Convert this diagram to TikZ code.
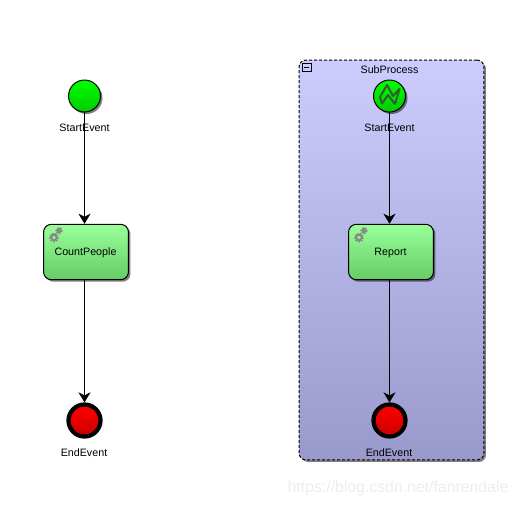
\documentclass[tikz,border=0pt]{standalone}
\usepackage{fontspec}
\setmainfont{Liberation Sans}
\usetikzlibrary{arrows.meta,shadows}
\definecolor{startcolor}{RGB}{0,255,0}
\definecolor{startcolorlo}{RGB}{0,204,0}
\definecolor{taskcolor}{RGB}{153,255,153}
\definecolor{taskcolorlo}{RGB}{102,204,102}
\definecolor{endcolor}{RGB}{255,0,0}
\definecolor{endcolorlo}{RGB}{204,0,0}
\definecolor{subcolor}{RGB}{204,204,255}
\definecolor{subcolorlo}{RGB}{153,153,204}
\definecolor{gearcolor}{RGB}{135,135,135}
\definecolor{signalcolor}{RGB}{50,95,50}
\tikzset{
  softshadow/.style={drop shadow={shadow xshift=0.04cm, shadow yshift=-0.04cm, fill=black, opacity=0.5}},
  startevent/.style={circle, draw=black, line width=0.02cm, minimum size=0.64cm, inner sep=0pt, top color=startcolor, bottom color=startcolorlo, softshadow},
  endevent/.style={circle, draw=black, line width=0.085cm, minimum size=0.64cm, inner sep=0pt, top color=endcolor, bottom color=endcolorlo},
  taskbox/.style={rectangle, rounded corners=0.16cm, draw=black, line width=0.02cm, minimum width=1.7cm, minimum height=1.11cm, inner sep=0pt, top color=taskcolor, bottom color=taskcolorlo, softshadow},
  subbox/.style={rectangle, rounded corners=0.14cm, draw=black, line width=0.02cm, dash pattern=on 0.06cm off 0.04cm, minimum width=3.7cm, minimum height=8cm, inner sep=0pt, top color=subcolor, bottom color=subcolorlo, softshadow},
  lab/.style={font=\fontsize{6.1pt}{7pt}\selectfont, inner sep=0pt},
  flow/.style={draw=black, line width=0.02cm, -{Stealth[length=0.2cm, width=0.24cm, inset=0.06cm]}},
  gearbig/.style={draw=gearcolor, line width=0.04cm},
  gearteeth/.style={draw=gearcolor, line width=0.025cm, dash pattern=on 0.03cm off 0.03cm}
}
\begin{document}
\begin{tikzpicture}[x=0.02cm, y=-0.02cm]
\useasboundingbox (0,0) rectangle (517,507);
% Subprocess container
\node[subbox] (subproc) at (391.5,260) {};
\node[draw=black, line width=0.02cm, minimum size=0.18cm, inner sep=0pt] (collapse) at (306.5,67.5) {};
\node[draw=black, line width=0.02cm, minimum width=0.1cm, minimum height=0pt, inner sep=0pt] (collapsebar) at (306.5,67.5) {};
\node[lab] (subname) at (389.5,69.5) {SubProcess};
% Two columns: left plain, right inside the subprocess
\foreach \col/\xpos/\taskname in {a/84.5/CountPeople, b/389.5/Report} {
  \node[startevent] (start\col) at (\xpos,96) {};
  \node[lab] (startlab\col) at (\xpos,127.5) {StartEvent};
  \node[taskbox] (task\col) at ({\xpos+1.5},252) {};
  \node[lab] (tasklab\col) at ({\xpos+1},252.5) {\taskname};
  \node[endevent] (end\col) at (\xpos,420.5) {};
  \node[lab] (endlab\col) at ({\xpos-0.5},452.5) {EndEvent};
  % Gear icon
  \draw[gearbig] ({\xpos-30.5},237.5) circle (2.8);
  \draw[gearteeth] ({\xpos-30.5},237.5) circle (4.4);
  \draw[gearbig] ({\xpos-25.5},230.7) circle (1.8);
  \draw[gearteeth] ({\xpos-25.5},230.7) circle (3);
  % Flows
  \draw[flow] (start\col) -- (start\col |- task\col.north);
  \draw[flow] (start\col |- task\col.south) -- (end\col);
}
% Signal mark on the right start event
\draw[draw=signalcolor, line width=0.04cm, line join=round] (380,97) -- (387,85) -- (393,96) -- (399.5,89) -- (395,104) -- (388,95) -- (382,103.5) -- cycle;
% Watermark
\node[font=\fontsize{9pt}{11pt}\selectfont, text=black!7, inner sep=0pt] (mark) at (398,488.5) {https://blog.csdn.net/fanrendale};
\end{tikzpicture}
\end{document}
